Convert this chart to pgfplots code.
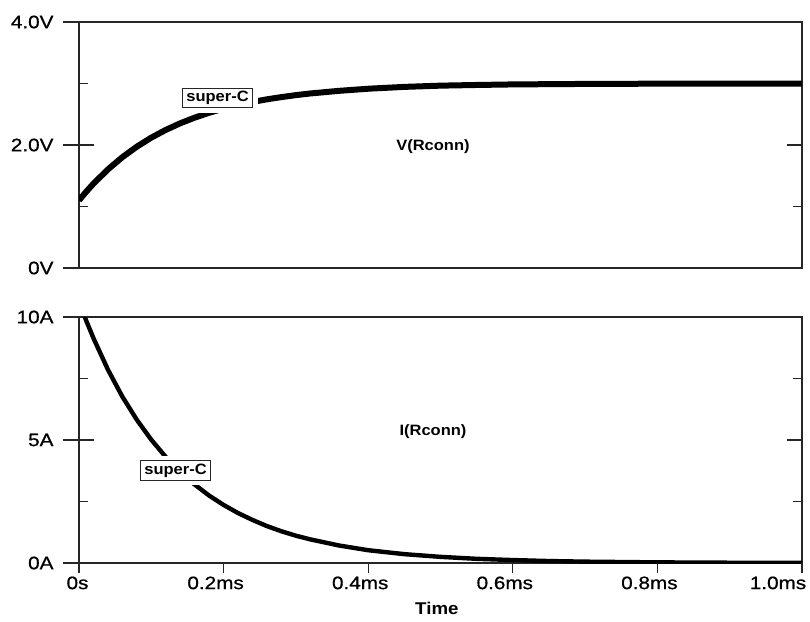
\documentclass[border=0pt]{standalone}
\usepackage{pgfplots}
\pgfplotsset{compat=1.18}
\usepackage{fontspec}
\setmainfont{Liberation Sans}
\newfontfamily\tickfamily[FakeStretch=1.15, FakeBold=0.8]{Liberation Sans}
\newfontfamily\annfamily[FakeStretch=1.1]{Liberation Sans}
\newcommand\tfont{\tickfamily\fontsize{18}{21}\selectfont}
\newcommand\afont{\annfamily\bfseries\fontsize{15}{18}\selectfont}
\newcommand\timefont{\annfamily\bfseries\fontsize{17}{20}\selectfont}

\pgfplotstableread{
t V
0 1.10
0.01 1.241
0.02 1.371
0.04 1.603
0.06 1.802
0.08 1.973
0.10 2.120
0.12 2.245
0.14 2.353
0.16 2.445
0.18 2.524
0.20 2.592
0.22 2.650
0.24 2.700
0.26 2.743
0.28 2.779
0.30 2.811
0.32 2.838
0.36 2.881
0.40 2.915
0.45 2.945
0.50 2.965
0.55 2.976
0.60 2.985
0.70 2.993
0.80 2.997
0.90 2.999
1.00 3.000
}\vdata

\pgfplotstableread{
t I
0 10.62
0.01 9.85
0.02 9.14
0.04 7.86
0.06 6.76
0.08 5.82
0.10 5.01
0.12 4.31
0.14 3.71
0.16 3.19
0.18 2.74
0.20 2.36
0.22 2.03
0.24 1.75
0.26 1.50
0.28 1.29
0.30 1.11
0.32 0.96
0.36 0.71
0.40 0.52
0.45 0.36
0.50 0.25
0.55 0.17
0.60 0.12
0.65 0.08
0.70 0.055
0.80 0.026
0.90 0.012
1.00 0.006
}\idata

\tikzset{
  halo/.style={fill=white, draw=white, line width=10pt, inner xsep=4pt, inner ysep=3pt, font=\afont},
  box/.style={fill=white, draw=black!85, line width=1pt, inner xsep=4pt, inner ysep=3pt, font=\afont},
}
\pgfplotsset{
  panel/.style={scale only axis, width=723pt, height=246pt, xmin=0, xmax=1,
    anchor=north west,
    axis line style={draw=black!85, line width=1.1pt},
    tick style={black!85, line width=1.1pt}},
}

\begin{document}
\begin{tikzpicture}
\useasboundingbox (0,0) rectangle (810pt,-621pt);
% ---------- top panel ----------
\begin{axis}[panel, at={(79pt,-22pt)}, ymin=0, ymax=4, xtick=\empty,
  ytick={0,2,4}, minor ytick={1,3}, yticklabels={}, ytick pos=both,
  tick align=inside, major tick length=15pt, minor tick length=9pt]
\addplot[black, line width=6pt] table[x=t, y=V] {\vdata};
\node[halo] at (axis cs:0.1916,2.764) {super-C};
\node[box] at (axis cs:0.1916,2.764) {super-C};
\node[font=\afont] at (axis cs:0.4896,1.975) {V(Rconn)};
\end{axis}
\begin{axis}[panel, at={(79pt,-22pt)}, ymin=0, ymax=4, xtick=\empty,
  ytick={0,2,4}, yticklabels={0V,2.0V,4.0V}, ytick pos=left,
  tick align=outside, major tick length=16pt,
  axis line style={draw=none}, yticklabel style={font=\tfont, xshift=-6pt}]
\end{axis}
% ---------- bottom panel ----------
\begin{axis}[panel, at={(79pt,-317pt)}, ymin=0, ymax=10, xtick=\empty,
  ytick={0,5,10}, minor ytick={2.5,7.5}, yticklabels={}, ytick pos=both,
  tick align=inside, major tick length=15pt, minor tick length=9pt]
\addplot[black, line width=4.4pt] table[x=t, y=I] {\idata};
\node[halo] at (axis cs:0.1335,3.76) {super-C};
\node[box] at (axis cs:0.1335,3.76) {super-C};
\node[font=\afont] at (axis cs:0.4896,5.325) {I(Rconn)};
\end{axis}
\begin{axis}[panel, at={(79pt,-317pt)}, ymin=0, ymax=10, xtick=\empty,
  ytick={0,5,10}, yticklabels={0A,5A,10A}, ytick pos=left,
  tick align=outside, major tick length=16pt,
  axis line style={draw=none}, yticklabel style={font=\tfont, xshift=-6pt}]
\end{axis}
\begin{axis}[panel, at={(79pt,-317pt)}, ymin=0, ymax=10, ytick=\empty,
  xtick={0,0.2,0.4,0.6,0.8,1}, xtick pos=bottom, clip=false,
  xticklabels={{\kern-3pt 0s},{\kern-16pt 0.2ms},{\kern-16pt 0.4ms},{\kern-16pt 0.6ms},{\kern-16pt 0.8ms},{\kern-48pt 1.0ms}},
  tick align=outside, major tick length=10pt,
  axis line style={draw=none}, xticklabel style={font=\tfont}]
\node[font=\timefont, anchor=north] at (rel axis cs:0.495,0) [yshift=-36pt] {Time};
\end{axis}
\end{tikzpicture}
\end{document}
